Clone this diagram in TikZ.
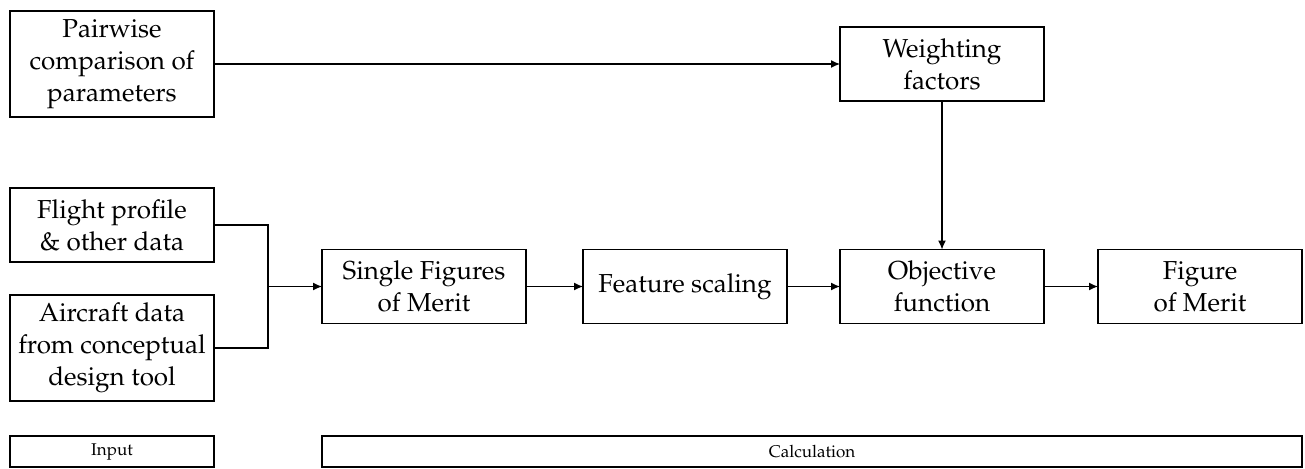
\documentclass[tikz,border=0pt]{standalone}
\usepackage[T1]{fontenc}
\usepackage{mathpazo}
\usetikzlibrary{positioning,arrows.meta,calc,fit}

\begin{document}
\begin{tikzpicture}[
  font=\fontsize{13}{16}\selectfont,
  block/.style={draw, line width=0.6pt, align=center, inner xsep=1pt, inner ysep=3pt,
    outer sep=0pt, minimum width=102pt, minimum height=37pt},
  tall/.style={minimum height=53pt},
  band/.style={draw, line width=0.6pt, inner sep=0pt, outer sep=0pt,
    font=\fontsize{8.5}{10}\selectfont},
  line/.style={line width=0.6pt},
  arr/.style={-{Latex[length=4.5pt,width=4pt]}, line width=0.6pt}
]
\useasboundingbox (-56pt,-202pt) rectangle (596.5pt,32pt);

% inputs
\node[block, tall] (pair) at (0,0) {Pairwise\\comparison of\\parameters};
\node[block, below=35.5pt of pair] (flight) {Flight profile\\\& other data};
\node[block, tall, below=16.5pt of flight] (aircraft) {Aircraft data\\from conceptual\\design tool};

% calculation chain
\coordinate (mid) at ($(flight.east)!0.5!(aircraft.east)$);
\coordinate (jn) at ($(mid)+(27pt,0)$);
\node[block, right=54pt of mid] (sfm) {Single Figures\\of Merit};
\node[block, right=28.5pt of sfm] (feat) {Feature scaling};
\node[block, right=26.5pt of feat] (obj) {Objective\\function};
\node[block, right=27pt of obj] (fom) {Figure\\of Merit};
\node[block] (weight) at (obj |- pair) {Weighting\\factors};

% bands
\node[band, minimum width=102pt, minimum height=15.5pt, below=17.5pt of aircraft] (input) {Input};
\node[band, fit=(sfm.west |- input.north) (fom.east |- input.south)] (calc) {};
\node[font=\fontsize{8.5}{10}\selectfont] at (calc.center) {Calculation};

% arrows
\draw[arr] (pair) -- (weight);
\draw[line] (flight.east) -| (jn);
\draw[line] (aircraft.east) -| (jn);
\draw[arr] (jn) -- (sfm);
\draw[arr] (sfm) -- (feat);
\draw[arr] (feat) -- (obj);
\draw[arr] (weight) -- (obj);
\draw[arr] (obj) -- (fom);

\end{tikzpicture}
\end{document}
